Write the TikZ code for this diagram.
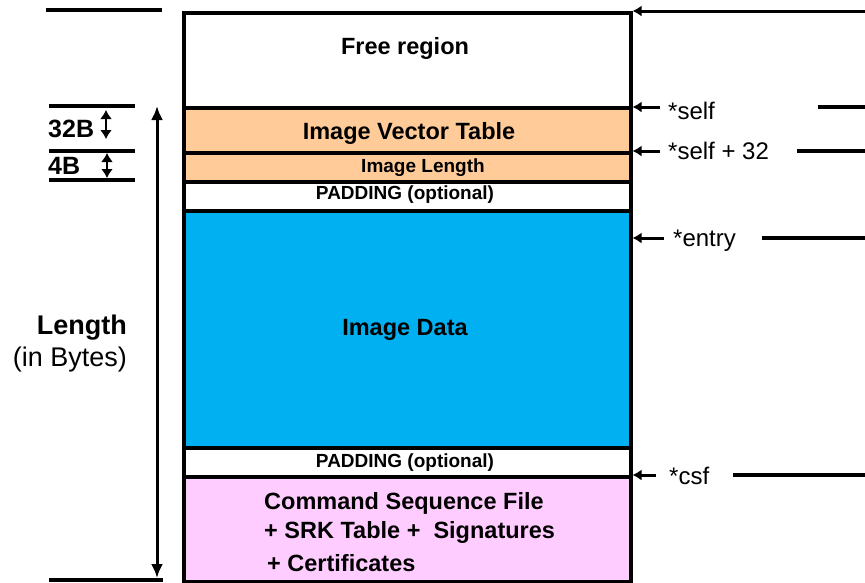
\documentclass[tikz,border=0pt]{standalone}
\usepackage{fontspec}
\setmainfont{Liberation Sans}
\usetikzlibrary{arrows.meta}
\definecolor{ivtorange}{HTML}{FFCC99}
\definecolor{datablue}{HTML}{00B0F0}
\definecolor{csfpink}{HTML}{FFCCFF}
\tikzset{
  row/.style={draw=black, line width=3.5pt, inner sep=0pt, anchor=north west,
    minimum width=447pt},
  bigtext/.style={font=\bfseries\fontsize{23.5}{27}\selectfont},
  smalltext/.style={font=\bfseries\fontsize{19}{22}\selectfont},
  ptr/.style={line width=3pt, -{Latex[length=9pt,width=11pt]}},
  rule/.style={line width=3.5pt},
  ptrlabel/.style={anchor=west, inner sep=0pt, font=\fontsize{24}{28}\selectfont},
  sizelabel/.style={anchor=west, inner sep=0pt, font=\bfseries\fontsize{25}{28}\selectfont},
  span/.style={line width=2.5pt, {Latex[length=9pt,width=12pt]}-{Latex[length=9pt,width=12pt]}},
}
\begin{document}
\begin{tikzpicture}[x=1pt, y=-1pt]
\useasboundingbox (0,0) rectangle (865,582);

% memory layout, top to bottom
\node[row, minimum height=95pt]  (free) at (182,11)  {};
\node[row, fill=ivtorange, minimum height=45pt] (ivt) at (182,106) {};
\node[row, fill=ivtorange, minimum height=29pt] (len) at (182,151) {};
\node[row, fill=white, minimum height=29pt] (pad1) at (182,180) {};
\node[row, fill=datablue, minimum height=237pt] (data) at (182,209) {};
\node[row, fill=white, minimum height=29pt] (pad2) at (182,446) {};
\node[row, fill=csfpink, minimum height=105pt] (csf) at (182,475) {};

% row captions
\node[bigtext] (freetxt) at (405,48) {Free region};
\node[bigtext] (ivttxt) at (409,133) {Image Vector Table};
\node[smalltext] (lentxt) at (423,168) {Image Length};
\node[smalltext] (pad1txt) at (405,195) {PADDING (optional)};
\node[bigtext] (datatxt) at (405,330) {Image Data};
\node[smalltext] (pad2txt) at (405,463) {PADDING (optional)};
\node[bigtext, anchor=west, inner sep=0pt] (csf1) at (264,503) {Command Sequence File};
\node[bigtext, anchor=west, inner sep=0pt] (csf2) at (264,532) {+ SRK Table +\ \ Signatures};
\node[bigtext, anchor=west, inner sep=0pt] (csf3) at (267,563) {+ Certificates};

% pointers on the right
\coordinate (topend) at (865,11);
\draw[ptr] (topend) -- (free.north east);

\coordinate (selfp) at (660,107);
\node[ptrlabel] (self) at (668,110.5) {*self};
\draw[ptr] (selfp) -- (ivt.east |- selfp);
\coordinate (selfa) at (818,107); \coordinate (selfb) at (865,107);
\draw[rule] (selfa) -- (selfb);

\coordinate (s32p) at (660,151);
\node[ptrlabel] (self32) at (668,150.5) {*self + 32};
\draw[ptr] (s32p) -- (len.east |- s32p);
\coordinate (s32a) at (797,151); \coordinate (s32b) at (865,151);
\draw[rule] (s32a) -- (s32b);

\coordinate (entp) at (664,238);
\node[ptrlabel] (entry) at (673,240.5) {*entry};
\draw[ptr] (entp) -- (data.east |- entp);
\coordinate (enta) at (762,238); \coordinate (entb) at (865,238);
\draw[rule] (enta) -- (entb);

\coordinate (csfq) at (656,475);
\node[ptrlabel] (csfp) at (669,475.5) {*csf};
\draw[ptr] (csfq) -- (csf.east |- csfq);
\coordinate (csfa) at (733,475); \coordinate (csfb) at (865,475);
\draw[rule] (csfa) -- (csfb);

% size marks on the left
\coordinate (t0) at (46,10);  \coordinate (t1) at (162,10);
\draw[rule] (t0) -- (t1);
\coordinate (a0) at (49,106); \coordinate (a1) at (135,106);
\coordinate (b0) at (49,151); \coordinate (b1) at (135,151);
\coordinate (c0) at (49,180); \coordinate (c1) at (135,180);
\draw[rule] (a0) -- (a1);
\draw[rule] (b0) -- (b1);
\draw[rule] (c0) -- (c1);
\node[sizelabel] (l32) at (48,129) {32B};
\node[sizelabel] (l4) at (48,166) {4B};
\coordinate (s1) at (106,110); \coordinate (s2) at (106,139);
\draw[span] (s1) -- (s2);
\coordinate (s3) at (107,153); \coordinate (s4) at (107,178);
\draw[span] (s3) -- (s4);

\coordinate (e0) at (49,580); \coordinate (e1) at (163,580);
\draw[rule] (e0) -- (e1);
\coordinate (lt) at (157,106); \coordinate (lb) at (157,578);
\draw[line width=3pt, {Latex[length=14pt,width=12pt]}-{Latex[length=14pt,width=12pt]}] (lb) -- (lt);

\node[anchor=east, inner sep=0pt, font=\bfseries\fontsize{27}{30}\selectfont] (lenw) at (127,328) {Length};
\node[anchor=east, inner sep=0pt, font=\fontsize{27}{30}\selectfont] (bytes) at (127,360) {(in Bytes)};
\end{tikzpicture}
\end{document}
